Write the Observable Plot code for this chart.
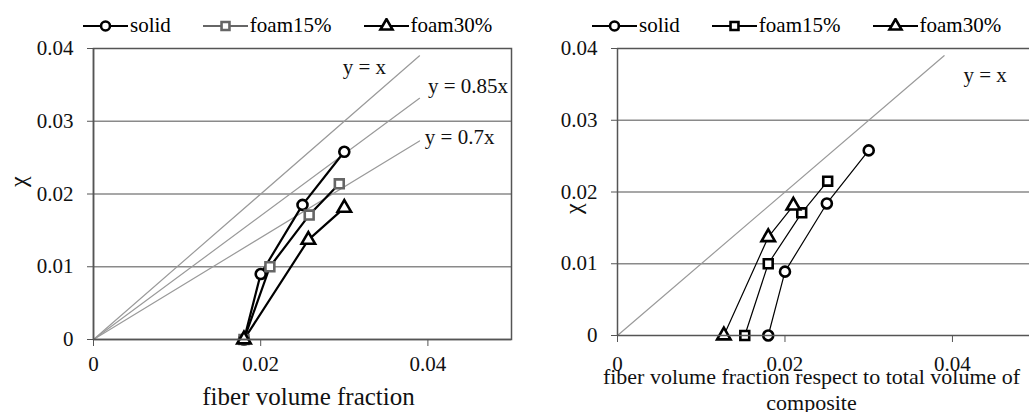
<!DOCTYPE html>
<html>
<head>
<meta charset="utf-8">
<script src="https://cdn.jsdelivr.net/npm/d3@7"></script>
<script src="https://cdn.jsdelivr.net/npm/@observablehq/plot@0.6"></script>
<style>
  html, body { margin: 0; padding: 0; background: #fff; }
  body { width: 1029px; height: 412px; position: relative; overflow: hidden; font-family: "Liberation Serif", "Times New Roman", serif; }
  .panel { position: absolute; top: 40px; }
  .legend { position: absolute; top: 13px; display: flex; gap: 32px; align-items: center; font-size: 21px; color: #000; }
  .legend .item { display: flex; align-items: center; gap: 2px; }
  .legend svg { display: block; }
</style>
</head>
<body>
<div id="legendL" class="legend" style="left:83px"></div>
<div id="legendR" class="legend" style="left:592px"></div>
<div id="left" class="panel" style="left:0px"></div>
<div id="right" class="panel" style="left:520px"></div>
<script>
// ---------- data ----------
const seriesNames = ["solid", "foam15%", "foam30%"];
const seriesSymbols = ["circle", "square", "triangle"];

// Left panel: fiber volume fraction vs chi
const leftSolidX = [0.018, 0.020, 0.025, 0.030];
const leftSolidY = [0.000, 0.0090, 0.0185, 0.0258];
const leftFoam15X = [0.018, 0.0211, 0.0258, 0.0294];
const leftFoam15Y = [0.000, 0.0100, 0.0171, 0.0214];
const leftFoam30X = [0.018, 0.0257, 0.030];
const leftFoam30Y = [0.000, 0.0137, 0.0181];

// Right panel: fiber volume fraction respect to total volume of composite vs chi
const rightSolidX = [0.018, 0.020, 0.025, 0.030];
const rightSolidY = [0.000, 0.0089, 0.0184, 0.0258];
const rightFoam15X = [0.0152, 0.018, 0.022, 0.0251];
const rightFoam15Y = [0.000, 0.0100, 0.0171, 0.0215];
const rightFoam30X = [0.0127, 0.018, 0.021];
const rightFoam30Y = [0.000, 0.0137, 0.0181];

// Reference lines y = k x
const leftRefSlopes = [1, 0.85, 0.7];
const leftRefLabels = ["y = x", "y = 0.85x", "y = 0.7x"];
const leftRefLabelX = [0.0324, 0.0448, 0.0438];
const leftRefLabelY = [0.0374, 0.0348, 0.0278];
const rightRefSlopes = [1];
const rightRefLabels = ["y = x"];
const rightRefLabelX = [0.0439];
const rightRefLabelY = [0.0363];
const refXEnd = 0.039;

const xTicks = [0, 0.02, 0.04];
const xTickLabels = ["0", "0.02", "0.04"];
const yTicks = [0, 0.01, 0.02, 0.03, 0.04];
const yTickLabels = ["0", "0.01", "0.02", "0.03", "0.04"];
const gridY = [0.01, 0.02, 0.03];

// ---------- helpers ----------
function rows(xs, ys, name) { return xs.map((x, i) => ({x, y: ys[i], series: name})); }
function refRows(slopes) {
  const out = [];
  slopes.forEach((k, j) => { out.push({x: 0, y: 0, k: j}); out.push({x: refXEnd, y: k * refXEnd, k: j}); });
  return out;
}

const FONT = "'Liberation Serif', 'Times New Roman', serif";

function makePanel(opts) {
  const {series, colors, lineWidth, slopes, labels, labelX, labelY, xDomainMax, marginLeft, marginRight, marginBottom, boxed, xLabel, xLabelDx, xLabelDy, xLabelSize, xLineHeight, xTickPadding, chiDx, chiDy} = opts;
  const refs = refRows(slopes);
  const labelRows = labels.map((t, i) => ({t, x: labelX[i], y: labelY[i]}));
  const marks = [
    Plot.ruleY(gridY, {stroke: "#8a8a8a", strokeWidth: 1.6}),
    Plot.line(refs, {x: "x", y: "y", z: "k", stroke: "#9a9a9a", strokeWidth: 1.2}),
    Plot.text(labelRows, {x: "x", y: "y", text: "t", fontSize: 21, fill: "#111", fontFamily: FONT}),
  ];
  series.forEach((s) => {
    marks.push(Plot.line(s, {x: "x", y: "y", stroke: "#000", strokeWidth: lineWidth}));
  });
  series.forEach((s, i) => {
    marks.push(Plot.dot(s, {x: "x", y: "y", symbol: () => seriesSymbols[i], r: 5, fill: "#fff", stroke: colors[i], strokeWidth: 2.6}));
  });
  if (boxed) {
    marks.push(Plot.frame({stroke: "#555", strokeWidth: 1.5}));
  } else {
    marks.push(Plot.ruleY([0.04], {stroke: "#555", strokeWidth: 1.5}));
  }
  marks.push(Plot.ruleY([0], {stroke: "#555", strokeWidth: 1.5}));
  marks.push(Plot.ruleX([0], {stroke: "#555", strokeWidth: 1.5}));
  marks.push(Plot.axisY(yTicks, {tickFormat: (d, i) => yTickLabels[i], tickSize: 6, tickPadding: 14, fontSize: 21, fontFamily: FONT, fill: "#111", stroke: "#555", label: null}));
  marks.push(Plot.axisX(xTicks, {tickFormat: (d, i) => xTickLabels[i], tickSize: 7, tickPadding: xTickPadding, fontSize: 21, fontFamily: FONT, fill: "#111", stroke: "#555", label: null}));
  marks.push(Plot.text([xLabel], {frameAnchor: "bottom", text: d => d, dx: xLabelDx, dy: xLabelDy, fontSize: xLabelSize, fontFamily: FONT, fill: "#111", lineHeight: xLineHeight, lineAnchor: "middle"}));
  marks.push(Plot.text(["χ"], {frameAnchor: "left", text: d => d, dx: chiDx, dy: chiDy, rotate: -90, fontSize: 24, fontFamily: FONT, fill: "#111"}));
  return Plot.plot({
    width: opts.width,
    height: 372,
    marginLeft, marginRight, marginTop: 8, marginBottom,
    x: {domain: [0, xDomainMax]},
    y: {domain: [0, 0.04]},
    style: {fontFamily: FONT, background: "#fff", overflow: "visible"},
    marks
  });
}

const leftSeries = [rows(leftSolidX, leftSolidY, "solid"), rows(leftFoam15X, leftFoam15Y, "foam15%"), rows(leftFoam30X, leftFoam30Y, "foam30%")];
const rightSeries = [rows(rightSolidX, rightSolidY, "solid"), rows(rightFoam15X, rightFoam15Y, "foam15%"), rows(rightFoam30X, rightFoam30Y, "foam30%")];
const leftColors = ["#000", "#666", "#000"];
const rightColors = ["#000", "#000", "#000"];

document.getElementById("left").append(makePanel({
  width: 520, series: leftSeries, colors: leftColors, lineWidth: 2.2,
  slopes: leftRefSlopes, labels: leftRefLabels, labelX: leftRefLabelX, labelY: leftRefLabelY,
  xDomainMax: 0.05, marginLeft: 93, marginRight: 9, marginBottom: 73, boxed: true,
  xLabel: "fiber volume fraction", xLabelDx: 6, xLabelDy: 56, xLabelSize: 25, xLineHeight: 1.2, xTickPadding: 10,
  chiDx: -75, chiDy: -7
}));
document.getElementById("right").append(makePanel({
  width: 509, series: rightSeries, colors: rightColors, lineWidth: 1.2,
  slopes: rightRefSlopes, labels: rightRefLabels, labelX: rightRefLabelX, labelY: rightRefLabelY,
  xDomainMax: 0.0492, marginLeft: 97, marginRight: 0, marginBottom: 77, boxed: false,
  xLabel: "fiber volume fraction respect to total volume of\ncomposite", xLabelDx: -12, xLabelDy: 53, xLabelSize: 22, xLineHeight: 1.2, xTickPadding: 14,
  chiDx: -44, chiDy: 22
}));

// ---------- legends ----------
const legendSymbols = [d3.symbolCircle, d3.symbolSquare, d3.symbolTriangle];
function buildLegend(id, colors) {
  const el = document.getElementById(id);
  seriesNames.forEach((name, i) => {
    const item = document.createElement("div");
    item.className = "item";
    const svg = d3.create("svg").attr("width", 45).attr("height", 16);
    svg.append("line").attr("x1", 0).attr("x2", 45).attr("y1", 8).attr("y2", 8).attr("stroke", colors[i]).attr("stroke-width", 2);
    svg.append("path").attr("d", d3.symbol(legendSymbols[i], Math.PI * 20)())
      .attr("transform", "translate(22.5,8)").attr("fill", "#fff").attr("stroke", colors[i]).attr("stroke-width", 2.6);
    item.append(svg.node());
    const span = document.createElement("span");
    span.textContent = name;
    item.append(span);
    el.append(item);
  });
}
buildLegend("legendL", leftColors);
buildLegend("legendR", rightColors);
</script>
</body>
</html>
